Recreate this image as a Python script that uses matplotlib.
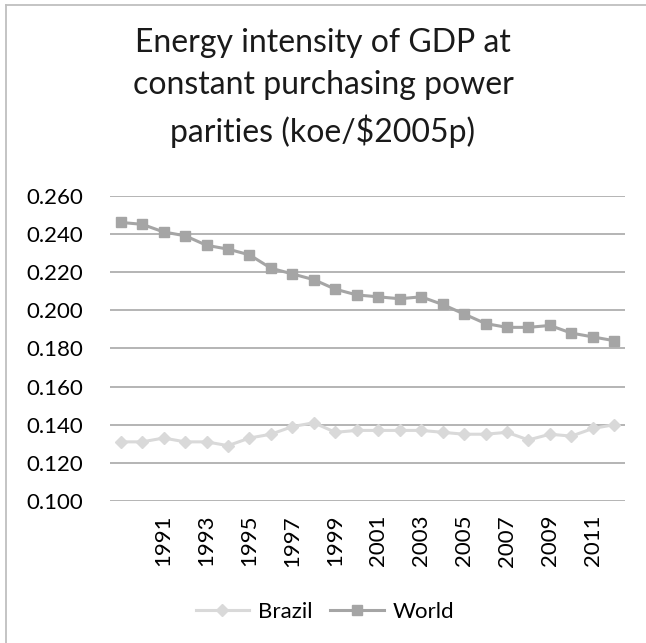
import matplotlib
matplotlib.use("Agg")
import matplotlib.pyplot as plt
from matplotlib.lines import Line2D

years = list(range(1989, 2013))
brazil = [0.131, 0.131, 0.133, 0.131, 0.131, 0.129, 0.133, 0.135, 0.139, 0.141,
          0.136, 0.137, 0.137, 0.137, 0.137, 0.136, 0.135, 0.135, 0.136, 0.132,
          0.135, 0.134, 0.138, 0.140]
world = [0.246, 0.245, 0.241, 0.239, 0.234, 0.232, 0.229, 0.222, 0.219, 0.216,
         0.211, 0.208, 0.207, 0.206, 0.207, 0.203, 0.198, 0.193, 0.191, 0.191,
         0.192, 0.188, 0.186, 0.184]
tick_years = list(range(1991, 2012, 2))
y_ticks = [0.100, 0.120, 0.140, 0.160, 0.180, 0.200, 0.220, 0.240, 0.260]
title = "Energy intensity of GDP at\nconstant purchasing power\nparities (koe/$2005p)"

plt.rcParams['font.family'] = ['Lato', 'DejaVu Sans']

W, H = 646, 643
fig = plt.figure(figsize=(W / 100, H / 100), dpi=100)
ax = fig.add_axes([110 / W, 1 - 501 / H, (625 - 110) / W, (501 - 195.7) / H])

x = list(range(len(years)))
ax.plot(x, brazil, color="#D9D9D9", lw=2.2, marker="D", ms=6, mec="#D9D9D9",
        mfc="#D9D9D9", label="Brazil", zorder=3)
ax.plot(x, world, color="#A5A5A5", lw=2.2, marker="s", ms=7.5, mec="#A5A5A5",
        mfc="#A5A5A5", label="World", zorder=3)

ax.set_xlim(-0.5, len(years) - 0.5)
ax.set_ylim(0.100, 0.260)
ax.set_yticks(y_ticks)
ax.set_yticklabels([f"{v:.3f}" for v in y_ticks], fontsize=16)
ax.set_xticks([years.index(t) for t in tick_years])
ax.set_xticklabels([str(t) for t in tick_years], rotation=90, fontsize=16)
ax.tick_params(axis="both", length=0, colors="black")
ax.tick_params(axis="y", pad=19)
ax.tick_params(axis="x", pad=10)
for s in ax.spines.values():
    s.set_visible(False)
ax.yaxis.grid(True, color="#AFAFAF", lw=1.3)
ax.set_axisbelow(True)

fig.text(0.5, 1 - 88 / H, title, ha="center", va="center", fontsize=23,
         linespacing=1.52, color="#1a1a1a")

leg = fig.legend(loc="center", bbox_to_anchor=(325 / W, 1 - 612 / H), ncol=2,
                 frameon=False, fontsize=16, handlelength=2.4,
                 columnspacing=0.8, handletextpad=0.4)

# chart area border (top and left edges)
fig.add_artist(Line2D([6 / W, 1], [1 - 5 / H, 1 - 5 / H], color="#BFBFBF", lw=1.3,
                      transform=fig.transFigure))
fig.add_artist(Line2D([6 / W, 6 / W], [1 - 5 / H, 0], color="#BFBFBF", lw=1.3,
                      transform=fig.transFigure))

fig.savefig("out.png", dpi=100)
